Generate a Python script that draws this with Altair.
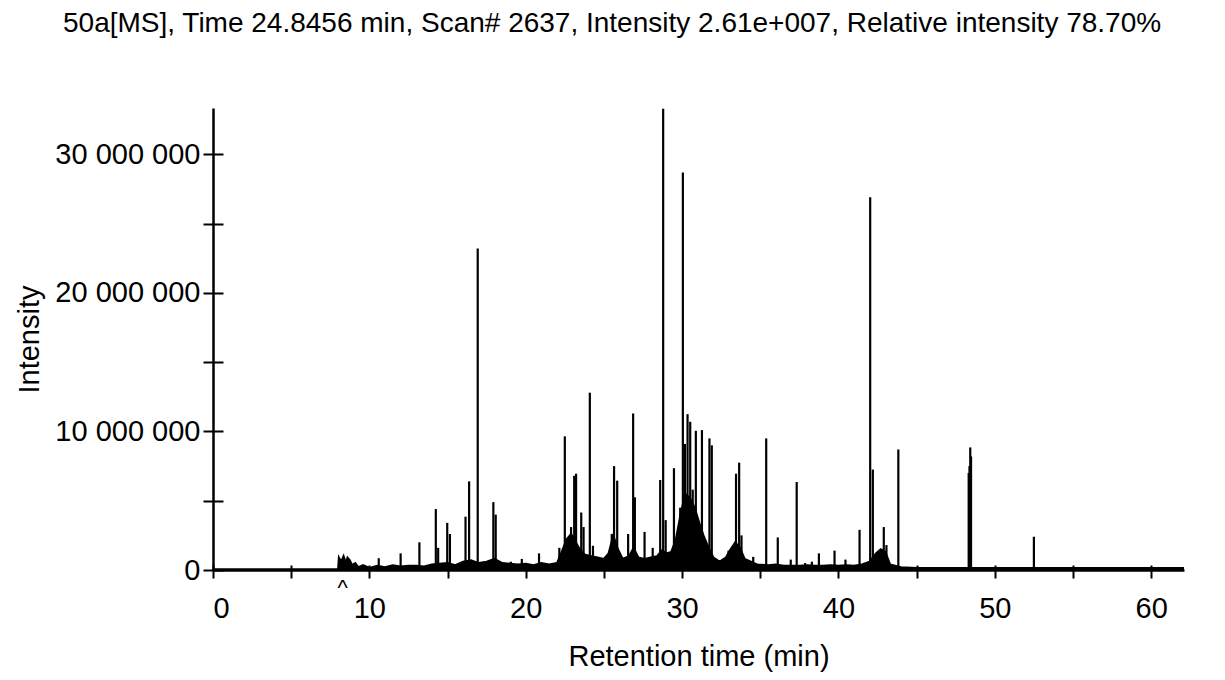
import altair as alt
import pandas as pd

# ---- data (intensity in millions) ----
peak_time = [10.6, 12.0, 13.2, 14.25, 14.4, 14.98, 15.15, 16.15, 16.38, 16.93,
             17.93, 18.08, 19.05, 19.75, 20.85, 22.15, 22.5, 22.9, 23.1, 23.22,
             23.55, 23.7, 24.1, 24.3, 25.5, 25.65, 25.85, 26.55, 26.87, 26.98,
             27.6, 28.12, 28.6, 28.79, 28.95, 29.48, 29.88, 30.05, 30.18, 30.35,
             30.52, 30.68, 30.88, 31.02, 31.27, 31.75, 31.9, 32.97, 33.45, 33.65,
             33.8, 34.55, 35.38, 36.12, 36.95, 37.33, 37.87, 38.3, 38.75, 39.75,
             40.45, 41.35, 42.03, 42.2, 42.9, 43.07, 43.83, 48.33, 48.38, 48.43,
             48.48, 52.5]
peak_height = [0.85, 1.2, 2.0, 4.4, 1.6, 3.4, 2.6, 3.85, 6.4, 23.2,
               4.9, 4.0, 0.6, 0.8, 1.2, 1.6, 9.65, 3.1, 6.8, 6.95,
               4.15, 3.1, 12.8, 1.75, 2.6, 7.5, 6.45, 2.6, 11.3, 5.25,
               2.75, 1.6, 6.5, 33.3, 3.6, 7.35, 4.5, 28.7, 9.1, 11.25,
               10.7, 5.8, 10.05, 2.8, 10.1, 9.5, 9.0, 1.4, 6.95, 7.75,
               2.5, 0.95, 9.5, 2.35, 0.75, 6.35, 0.5, 0.6, 1.2, 1.4,
               0.75, 2.9, 26.9, 7.25, 3.1, 1.8, 8.7, 7.0, 7.5, 8.85,
               8.2, 2.4]

trace_time = [0, 8.0, 8.05, 8.2, 8.35, 8.5, 8.6, 8.75, 8.9, 9.1, 9.3, 9.6, 10.0,
              10.5, 11.0, 11.5, 12.0, 12.5, 13.0, 13.5, 14.0, 14.5, 15.0, 15.5,
              16.0, 16.5, 17.0, 17.5, 18.0, 18.5, 19.0, 19.5, 20.0, 20.5, 21.0,
              21.5, 22.0, 22.3, 22.6, 22.9, 23.2, 23.5, 23.8, 24.2, 24.6, 25.0,
              25.3, 25.6, 25.9, 26.2, 26.6, 26.9, 27.2, 27.6, 28.0, 28.4, 28.7,
              29.0, 29.3, 29.6, 29.9, 30.2, 30.5, 30.8, 31.1, 31.4, 31.7, 32.0,
              32.4, 32.8, 33.1, 33.4, 33.7, 34.0, 34.4, 34.8, 35.5, 36.0, 36.5,
              37.0, 37.5, 38.0, 38.5, 39.0, 39.5, 40.0, 40.5, 41.0, 41.5, 42.0,
              42.4, 42.7, 43.0, 43.3, 44.0, 45.0, 62.1]
trace_value = [0.05, 0.05, 0.9, 0.6, 1.0, 0.5, 0.9, 0.7, 0.35, 0.5, 0.2, 0.35, 0.15,
               0.3, 0.2, 0.35, 0.25, 0.3, 0.3, 0.25, 0.4, 0.45, 0.5, 0.35,
               0.6, 0.7, 0.5, 0.6, 0.8, 0.5, 0.45, 0.4, 0.45, 0.35, 0.5,
               0.4, 0.5, 1.3, 2.2, 2.6, 2.0, 1.4, 1.1, 1.0, 0.9, 0.8,
               1.2, 2.5, 1.5, 0.8, 1.0, 1.6, 0.9, 0.8, 0.9, 1.0, 1.4,
               1.2, 1.3, 2.2, 4.0, 5.5, 5.2, 4.5, 3.4, 2.4, 1.6, 0.9,
               0.6, 0.9, 1.5, 2.0, 1.6, 0.8, 0.6, 0.4, 0.35, 0.4, 0.3,
               0.3, 0.3, 0.35, 0.3, 0.3, 0.35, 0.3, 0.35, 0.3, 0.4, 0.6,
               1.2, 1.5, 1.3, 0.4, 0.2, 0.15, 0.15]

marker_time = [8.3]
marker_text = ["^"]

x_tick_values = [0, 5, 10, 15, 20, 25, 30, 35, 40, 45, 50, 55, 60]
y_tick_values = [0, 5e6, 10e6, 15e6, 20e6, 25e6, 30e6]

title_text = ("50a[MS], Time 24.8456 min, Scan# 2637, Intensity 2.61e+007, "
              "Relative intensity 78.70%")

M = 1e6
peaks = pd.DataFrame({"t": peak_time, "v": [h * M for h in peak_height]})
trace = pd.DataFrame({"t": trace_time, "v": [v * M for v in trace_value]})
marker = pd.DataFrame({"t": marker_time, "label": marker_text})

FONT = "Liberation Sans"
FS = 29
xscale = alt.Scale(domain=[0, 62.1], nice=False, zero=False)
yscale = alt.Scale(domain=[0, 33.35e6], nice=False)

ylabel = ("datum.value % 10000000 == 0 ? "
          "replace(replace(format(datum.value, ','), ',', ' '), ',', ' ') : ''")
xlabel = "datum.value % 10 == 0 ? datum.label : ''"

x_main = alt.Axis(values=x_tick_values, labelExpr=xlabel, title="Retention time (min)",
                  grid=False, tickSize=8, tickWidth=2, tickColor="black",
                  domainWidth=2.5, domainColor="black", labelFontSize=FS,
                  titleFontSize=FS, labelFont=FONT, titleFont=FONT,
                  labelColor="black", titleColor="black", titleFontWeight="normal",
                  labelPadding=16, titlePadding=19, orient="bottom")
y_main = alt.Axis(values=y_tick_values, labelExpr=ylabel, title="Intensity",
                  grid=False, tickSize=10, tickWidth=2, tickColor="black",
                  domainWidth=2.5, domainColor="black", labelFontSize=FS,
                  titleFontSize=FS, labelFont=FONT, titleFont=FONT,
                  labelColor="black", titleColor="black", titleFontWeight="normal",
                  labelPadding=3, titlePadding=10, orient="left")
x_in = alt.Axis(values=x_tick_values, labels=False, title=None, grid=False,
                domain=False, tickSize=5, tickWidth=2, tickColor="black",
                orient="bottom", offset=-5)
y_in = alt.Axis(values=y_tick_values, labels=False, title=None, grid=False,
                domain=False, tickSize=10, tickWidth=2, tickColor="black",
                orient="left", offset=-10)

area = alt.Chart(trace).mark_area(color="black", interpolate="linear").encode(
    x=alt.X("t:Q", scale=xscale, axis=x_main),
    y=alt.Y("v:Q", scale=yscale, axis=y_main),
)
line = alt.Chart(trace).mark_line(color="black", strokeWidth=2).encode(
    x=alt.X("t:Q", scale=xscale, axis=x_in),
    y=alt.Y("v:Q", scale=yscale, axis=y_in),
)
rules = alt.Chart(peaks).mark_rule(color="black", strokeWidth=2.2).encode(
    x=alt.X("t:Q", scale=xscale, axis=None),
    y=alt.Y("v:Q", scale=yscale, axis=None),
    y2=alt.datum(0),
)
mark = alt.Chart(marker).mark_text(font=FONT, fontSize=22, color="black",
                                   baseline="top", dy=8).encode(
    x=alt.X("t:Q", scale=xscale, axis=None),
    y=alt.Y(datum=0, scale=yscale, axis=None),
    text="label:N",
)

chart = alt.layer(area, line, rules, mark).resolve_axis(
    x="independent", y="independent"
).properties(
    width=971,
    height=462,
    padding={"left": 205, "top": 100, "right": 20, "bottom": 102},
    autosize=alt.AutoSizeParams(type="none"),
    title=alt.TitleParams(text=title_text, font=FONT, fontSize=28,
                          fontWeight="normal", color="black", anchor="start",
                          frame="group", dx=-150, offset=70),
).configure_view(stroke=None)

chart.save("out.html", embed_options={"renderer": "svg", "actions": False})
